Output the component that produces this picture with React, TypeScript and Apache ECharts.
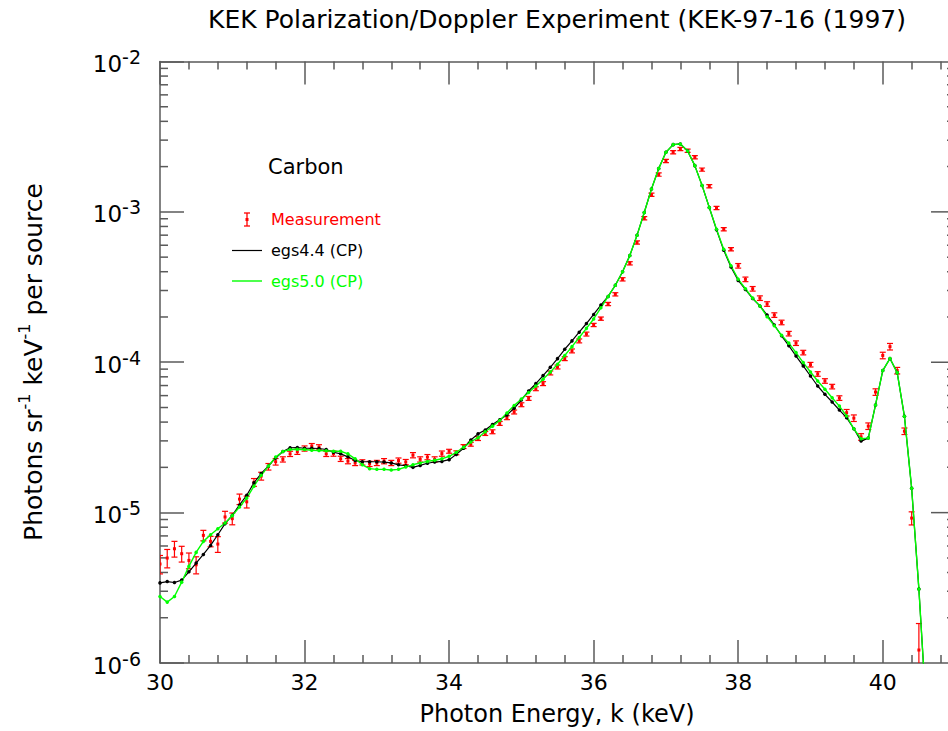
import React, { useEffect, useRef } from "react";
import * as echarts from "echarts";

// ---- Data ----
const simEnergy: number[] = Array.from({ length: 107 }, (_, i) => Math.round((30 + i * 0.1) * 10) / 10);
const measEnergy: number[] = simEnergy.slice(0, 106);

const egs44: number[] = [
  3.41e-6, 3.48e-6, 3.43e-6, 3.56e-6, 4.04e-6, 4.62e-6, 5.27e-6, 6.05e-6, 7.13e-6, 8.45e-6,
  9.6e-6, 1.125e-5, 1.305e-5, 1.58e-5, 1.82e-5, 2.04e-5, 2.31e-5, 2.55e-5, 2.7e-5, 2.71e-5,
  2.68e-5, 2.68e-5, 2.67e-5, 2.63e-5, 2.52e-5, 2.46e-5, 2.35e-5, 2.22e-5, 2.18e-5, 2.18e-5,
  2.18e-5, 2.17e-5, 2.14e-5, 2.08e-5, 2.05e-5, 2.0e-5, 2.06e-5, 2.13e-5, 2.17e-5, 2.19e-5,
  2.25e-5, 2.44e-5, 2.68e-5, 3.04e-5, 3.34e-5, 3.54e-5, 3.85e-5, 4.15e-5, 4.46e-5, 4.94e-5,
  5.61e-5, 6.44e-5, 7.21e-5, 8.15e-5, 9.26e-5, 1.057e-4, 1.22e-4, 1.387e-4, 1.585e-4, 1.81e-4,
  2.08e-4, 2.4e-4, 2.74e-4, 3.25e-4, 4.0e-4, 5.12e-4, 6.98e-4, 9.9e-4, 1.42e-3, 1.94e-3,
  2.49e-3, 2.8e-3, 2.83e-3, 2.54e-3, 2.03e-3, 1.5e-3, 1.07e-3, 7.6e-4, 5.55e-4, 4.3e-4,
  3.5e-4, 3.05e-4, 2.65e-4, 2.37e-4, 2.06e-4, 1.77e-4, 1.5e-4, 1.29e-4, 1.1e-4, 9.46e-5,
  8.1e-5, 6.95e-5, 6.12e-5, 5.44e-5, 4.81e-5, 4.28e-5, 3.61e-5, 2.99e-5, 3.13e-5, 5.2e-5,
  8.8e-5, 1.06e-4, 8.53e-5, 4.37e-5, 1.45e-5, 3.1e-6, 5e-7,
];

const egs50: number[] = [
  2.77e-6, 2.54e-6, 2.77e-6, 3.45e-6, 4.39e-6, 5.44e-6, 6.44e-6, 7.13e-6, 7.82e-6, 8.53e-6,
  9.55e-6, 1.09e-5, 1.25e-5, 1.5e-5, 1.77e-5, 2.04e-5, 2.34e-5, 2.55e-5, 2.63e-5, 2.64e-5,
  2.63e-5, 2.6e-5, 2.59e-5, 2.58e-5, 2.56e-5, 2.56e-5, 2.46e-5, 2.28e-5, 2.08e-5, 1.96e-5,
  1.94e-5, 1.94e-5, 1.92e-5, 1.94e-5, 2.01e-5, 2.08e-5, 2.14e-5, 2.19e-5, 2.23e-5, 2.28e-5,
  2.37e-5, 2.52e-5, 2.72e-5, 2.95e-5, 3.15e-5, 3.45e-5, 3.76e-5, 4.1e-5, 4.6e-5, 5.15e-5,
  5.7e-5, 6.3e-5, 6.95e-5, 7.7e-5, 8.6e-5, 9.7e-5, 1.11e-4, 1.27e-4, 1.46e-4, 1.68e-4,
  1.94e-4, 2.3e-4, 2.74e-4, 3.25e-4, 4.0e-4, 5.12e-4, 6.98e-4, 9.9e-4, 1.42e-3, 1.94e-3,
  2.49e-3, 2.8e-3, 2.83e-3, 2.54e-3, 2.03e-3, 1.5e-3, 1.07e-3, 7.66e-4, 5.64e-4, 4.38e-4,
  3.57e-4, 3.08e-4, 2.67e-4, 2.37e-4, 2.01e-4, 1.75e-4, 1.51e-4, 1.34e-4, 1.16e-4, 9.95e-5,
  8.62e-5, 7.51e-5, 6.61e-5, 5.81e-5, 5.11e-5, 4.39e-5, 3.61e-5, 3.1e-5, 3.13e-5, 5.2e-5,
  8.8e-5, 1.06e-4, 8.53e-5, 4.37e-5, 1.45e-5, 3.1e-6, 5e-7,
];

const measured: number[] = [
  4.55e-6, 4.99e-6, 5.75e-6, 5.33e-6, 4.81e-6, 4.5e-6, 7.06e-6, 6.44e-6, 6.18e-6, 9.36e-6,
  9.12e-6, 1.23e-5, 1.18e-5, 1.59e-5, 1.75e-5, 2.02e-5, 2.18e-5, 2.26e-5, 2.46e-5, 2.54e-5,
  2.67e-5, 2.77e-5, 2.72e-5, 2.46e-5, 2.47e-5, 2.28e-5, 2.2e-5, 2.14e-5, 2.16e-5, 2.11e-5,
  2.14e-5, 2.2e-5, 2.14e-5, 2.22e-5, 2.17e-5, 2.41e-5, 2.26e-5, 2.34e-5, 2.26e-5, 2.47e-5,
  2.56e-5, 2.5e-5, 2.75e-5, 2.85e-5, 3.11e-5, 3.36e-5, 3.45e-5, 3.92e-5, 4.28e-5, 4.67e-5,
  5.22e-5, 5.75e-5, 6.67e-5, 7.21e-5, 8.49e-5, 9.3e-5, 1.057e-4, 1.19e-4, 1.387e-4, 1.54e-4,
  1.77e-4, 1.95e-4, 2.44e-4, 2.83e-4, 3.56e-4, 4.55e-4, 6.25e-4, 9.08e-4, 1.3e-3, 1.77e-3,
  2.18e-3, 2.49e-3, 2.62e-3, 2.55e-3, 2.31e-3, 1.91e-3, 1.48e-3, 1.06e-3, 7.66e-4, 5.64e-4,
  4.38e-4, 3.56e-4, 3.08e-4, 2.67e-4, 2.44e-4, 2.06e-4, 1.84e-4, 1.55e-4, 1.34e-4, 1.16e-4,
  9.64e-5, 8.36e-5, 7.51e-5, 6.89e-5, 5.78e-5, 4.62e-5, 4.25e-5, 3.19e-5, 3.76e-5, 6.34e-5,
  1.11e-4, 1.27e-4, 8.8e-5, 3.48e-5, 9.2e-6, 1.22e-6,
];

// relative error (percent) of each measurement
const measErrPct: number[] = [
  14, 14, 12, 12, 12, 13, 8, 8, 12, 9,
  9, 8, 9, 6, 6, 5, 5, 4, 4, 4,
  4, 4, 4, 4, 4, 4, 4, 4, 4, 4,
  4, 4, 4, 4, 4, 4, 4, 4, 4, 4,
  3, 3, 3, 3, 3, 3, 3, 3, 3, 3,
  3, 3, 3, 3, 3, 3, 3, 3, 3, 3,
  2.5, 2.5, 2.5, 2.5, 2.5, 2.5, 2.5, 2.5, 2.5, 2.5,
  2.5, 2.5, 2.5, 2.5, 2.5, 2.5, 2.5, 2.5, 2.5, 2.5,
  3.5, 3.5, 3.5, 3.5, 3.5, 3.5, 3.5, 3.5, 3.5, 3.5,
  3.5, 3.5, 3.5, 3.5, 3.5, 5, 5, 5, 5, 5,
  5, 5, 5, 5, 10, 50,
];

const xTickLabels = ["30", "32", "34", "36", "38", "40"];
const yDecades: number[] = [1e-6, 1e-5, 1e-4, 1e-3, 1e-2];
const yMinorMultipliers: number[] = [2, 3, 4, 5, 6, 7, 8, 9];

const TITLE = "KEK Polarization/Doppler Experiment (KEK-97-16 (1997)";
const X_NAME = "Photon Energy, k (keV)";
const SAMPLE = "Carbon";
const LEG_MEAS = "Measurement";
const LEG_44 = "egs4.4 (CP)";
const LEG_50 = "egs5.0 (CP)";

const FONT = '"DejaVu Sans", "Liberation Sans", sans-serif';
const AXIS = "#5a5a5a";
const RED = "#ff0000";
const GREEN = "#00ff00";

export default function App() {
  const ref = useRef<HTMLDivElement>(null);

  useEffect(() => {
    if (!ref.current) return;
    const chart = echarts.init(ref.current, undefined, { renderer: "svg" });

    const yMinorTicks: number[] = [];
    yDecades.slice(0, -1).forEach((d) => yMinorMultipliers.forEach((m) => yMinorTicks.push(m * d)));

    const tickLine = (len: number, xVal: number, dir: number) => (params: any, api: any) => {
      const p = api.coord([xVal, api.value(0)]);
      return {
        type: "line",
        shape: { x1: p[0], y1: p[1], x2: p[0] + dir * len, y2: p[1] },
        style: { stroke: AXIS, lineWidth: 1.5 },
      };
    };

    const lineData = (ys: number[]) => simEnergy.map((x, i) => [x, ys[i]]);

    const option: any = {
      animation: false,
      backgroundColor: "#ffffff",
      grid: { left: 160, top: 61.5, width: 867.3, height: 601.5, containLabel: false },
      xAxis: [
        {
          type: "value",
          min: 30,
          max: 42,
          interval: 2,
          position: "bottom",
          axisLine: { show: true, onZero: false, lineStyle: { color: AXIS, width: 1.5 } },
          axisTick: { show: true, inside: true, length: 23, lineStyle: { color: AXIS, width: 1.5 } },
          minorTick: { show: true, splitNumber: 5, length: 8, lineStyle: { color: AXIS, width: 1.5 } },
          splitLine: { show: false },
          axisLabel: {
            margin: 8,
            fontSize: 22,
            fontFamily: FONT,
            color: "#000",
            formatter: (v: number) => xTickLabels.find((t) => Number(t) === v) || "",
          },
        },
        {
          type: "value",
          min: 30,
          max: 42,
          interval: 2,
          position: "top",
          axisLine: { show: true, onZero: false, lineStyle: { color: AXIS, width: 1.5 } },
          axisTick: { show: true, inside: true, length: 23, lineStyle: { color: AXIS, width: 1.5 } },
          minorTick: { show: true, splitNumber: 5, length: 8, lineStyle: { color: AXIS, width: 1.5 } },
          splitLine: { show: false },
          axisLabel: { show: false },
        },
      ],
      yAxis: [
        {
          type: "log",
          logBase: 10,
          min: yDecades[0],
          max: yDecades[yDecades.length - 1],
          splitNumber: 4,
          axisLine: { show: true, onZero: false, lineStyle: { color: AXIS, width: 1.5 } },
          axisTick: { show: true, inside: true, length: 24, lineStyle: { color: AXIS, width: 1.5 } },
          minorTick: { show: false },
          splitLine: { show: false },
          axisLabel: {
            margin: 19,
            formatter: (v: number) => `{b|10}{s|${Math.round(Math.log10(v))}}`,
            rich: {
              b: { fontSize: 23, fontFamily: FONT, color: "#000", lineHeight: 28, verticalAlign: "bottom" },
              s: { fontSize: 19, fontFamily: FONT, color: "#000", lineHeight: 12, verticalAlign: "top" },
            },
          },
        },
      ],
      graphic: [
        {
          type: "text",
          x: 557,
          y: 19,
          style: {
            text: TITLE,
            fill: "#000",
            fontSize: 25,
            fontFamily: FONT,
            textAlign: "center",
            textVerticalAlign: "middle",
            align: "center",
            verticalAlign: "middle",
          },
        },
        {
          type: "text",
          x: 557,
          y: 714,
          style: {
            text: X_NAME,
            fill: "#000",
            fontSize: 24,
            fontFamily: FONT,
            textAlign: "center",
            textVerticalAlign: "middle",
            align: "center",
            verticalAlign: "middle",
          },
        },
        {
          type: "text",
          x: 31,
          y: 362,
          rotation: Math.PI / 2,
          style: {
            text: "{a|Photons sr}{s|-1}{a| keV}{s|-1}{a| per source}",
            fill: "#000",
            textAlign: "center",
            textVerticalAlign: "middle",
            align: "center",
            verticalAlign: "middle",
            rich: {
              a: { fontSize: 25, fontFamily: FONT, fill: "#000", lineHeight: 30, verticalAlign: "bottom" },
              s: { fontSize: 16, fontFamily: FONT, fill: "#000", lineHeight: 14, verticalAlign: "top" },
            },
          },
        },
        {
          type: "text",
          x: 268,
          y: 167,
          style: { text: SAMPLE, fill: "#000", fontSize: 21, fontFamily: FONT, textVerticalAlign: "middle", verticalAlign: "middle" },
        },
        // legend: measurement
        { type: "line", shape: { x1: 247, y1: 213, x2: 247, y2: 226 }, style: { stroke: RED, lineWidth: 1.3 } },
        { type: "line", shape: { x1: 244, y1: 213, x2: 250, y2: 213 }, style: { stroke: RED, lineWidth: 1.3 } },
        { type: "line", shape: { x1: 244, y1: 226, x2: 250, y2: 226 }, style: { stroke: RED, lineWidth: 1.3 } },
        { type: "rect", shape: { x: 245.5, y: 218, width: 3, height: 3 }, style: { fill: RED } },
        {
          type: "text",
          x: 271,
          y: 219.5,
          style: { text: LEG_MEAS, fill: RED, fontSize: 16, fontFamily: FONT, textVerticalAlign: "middle", verticalAlign: "middle" },
        },
        // legend: egs4.4
        { type: "line", shape: { x1: 232, y1: 250.5, x2: 262, y2: 250.5 }, style: { stroke: "#000", lineWidth: 1.2 } },
        {
          type: "text",
          x: 271,
          y: 250,
          style: { text: LEG_44, fill: "#000", fontSize: 16, fontFamily: FONT, textVerticalAlign: "middle", verticalAlign: "middle" },
        },
        // legend: egs5.0
        { type: "line", shape: { x1: 232, y1: 281, x2: 262, y2: 281 }, style: { stroke: GREEN, lineWidth: 1.4 } },
        {
          type: "text",
          x: 271,
          y: 281,
          style: { text: LEG_50, fill: GREEN, fontSize: 16, fontFamily: FONT, textVerticalAlign: "middle", verticalAlign: "middle" },
        },
      ],
      series: [
        // y minor ticks, left side
        {
          type: "custom",
          silent: true,
          data: yMinorTicks.map((v) => [v]),
          renderItem: tickLine(8, 30, 1),
        },
        // y minor ticks, right side
        {
          type: "custom",
          silent: true,
          data: yMinorTicks.map((v) => [v]),
          renderItem: tickLine(8, 41, -1),
        },
        // y major ticks, right side
        {
          type: "custom",
          silent: true,
          data: yDecades.slice(1, -1).map((v) => [v]),
          renderItem: tickLine(24, 41, -1),
        },
        // measurement with error bars
        {
          type: "custom",
          name: LEG_MEAS,
          clip: true,
          data: measEnergy.map((x, i) => [
            x,
            measured[i],
            measured[i] * (1 - measErrPct[i] / 100),
            measured[i] * (1 + measErrPct[i] / 100),
          ]),
          renderItem: (params: any, api: any) => {
            const x = api.value(0);
            const pc = api.coord([x, api.value(1)]);
            const pl = api.coord([x, api.value(2)]);
            const ph = api.coord([x, api.value(3)]);
            const c = 3;
            const st = { stroke: RED, lineWidth: 1.2 };
            return {
              type: "group",
              children: [
                { type: "line", shape: { x1: pc[0], y1: pl[1], x2: pc[0], y2: ph[1] }, style: st },
                { type: "line", shape: { x1: pc[0] - c, y1: pl[1], x2: pc[0] + c, y2: pl[1] }, style: st },
                { type: "line", shape: { x1: pc[0] - c, y1: ph[1], x2: pc[0] + c, y2: ph[1] }, style: st },
                { type: "rect", shape: { x: pc[0] - 1.5, y: pc[1] - 1.5, width: 3, height: 3 }, style: { fill: RED } },
              ],
            };
          },
        },
        {
          type: "line",
          name: LEG_44,
          data: lineData(egs44),
          symbol: "circle",
          symbolSize: 3.5,
          showSymbol: true,
          clip: true,
          lineStyle: { color: "#000", width: 1.2 },
          itemStyle: { color: "#000" },
        },
        {
          type: "line",
          name: LEG_50,
          data: lineData(egs50),
          symbol: "circle",
          symbolSize: 3.5,
          showSymbol: true,
          clip: true,
          lineStyle: { color: GREEN, width: 1.4 },
          itemStyle: { color: GREEN },
        },
      ],
    };

    chart.setOption(option);
    return () => chart.dispose();
  }, []);

  return (
    <div
      style={{
        position: "absolute",
        left: 0,
        top: 0,
        width: 948,
        height: 731,
        overflow: "hidden",
        background: "#fff",
      }}
    >
      <div ref={ref} style={{ width: 1040, height: 731 }} />
    </div>
  );
}
